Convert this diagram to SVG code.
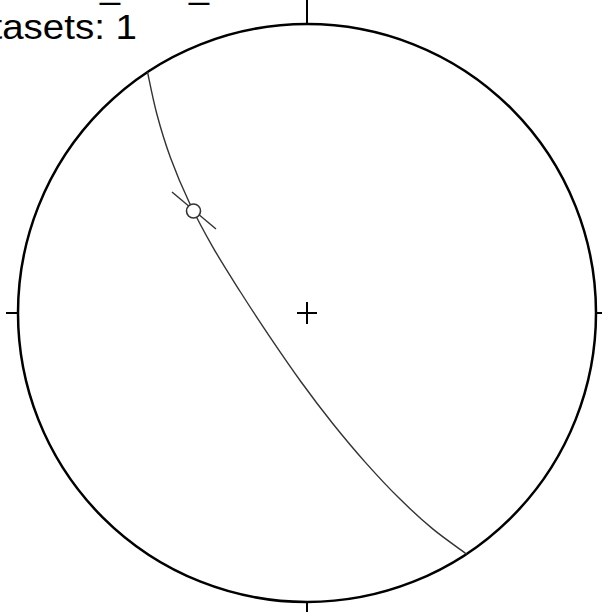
<svg xmlns="http://www.w3.org/2000/svg" width="602" height="612" viewBox="0 0 602 612">
  <style>
    .txt { font-family: "Liberation Sans", Arial, sans-serif; fill: #000; }
    .prim { fill: none; stroke: #000; stroke-width: 2.5; }
    .tick { stroke: #000; stroke-width: 2; }
    .gc { fill: none; stroke: #333; stroke-width: 1.4; }
  </style>
  <rect width="602" height="612" fill="#fff"/>
  <g id="header">
    <text class="txt" x="100" y="-2" font-size="36">_</text>
    <text class="txt" x="189" y="-2" font-size="36">_</text>
    <text class="txt" x="124.5" y="39" font-size="35" text-anchor="end" transform="scale(1.1,1)">Datasets: 1</text>
  </g>
  <g id="net">
    <circle class="prim" cx="307" cy="313" r="289"/>
    <line class="tick" x1="307" y1="0" x2="307" y2="24"/>
    <line class="tick" x1="307" y1="602" x2="307" y2="612"/>
    <line class="tick" x1="6" y1="313" x2="18" y2="313"/>
    <line class="tick" x1="596" y1="313" x2="602" y2="313"/>
    <line class="tick" x1="297" y1="313" x2="317" y2="313"/>
    <line class="tick" x1="307" y1="302" x2="307" y2="324"/>
  </g>
  <g id="connectors">
    <path id="greatcircle" class="gc" d="M466.5,554 C460.9,549.8 443.95,538.2 432.7,528.9 C421.45,519.6 410.2,509.15 399,498.1 C387.8,487.05 376.65,475 365.6,462.6 C354.55,450.2 343.5,437 332.7,423.5 C321.9,410 311.2,395.85 300.8,381.5 C290.4,367.15 280.2,352.2 270.2,337.4 C260.2,322.6 250.3,307.5 240.8,292.5 C231.3,277.5 221.7,262.6 213.1,247.6 C204.5,232.6 196.4,217.5 189.3,202.5 C182.2,187.5 175.8,172.3 170.4,157.5 C165,142.7 160.5,127.75 156.7,113.5 C152.9,99.25 149,78.9 147.5,72"/>
  </g>
  <g id="pole">
    <line x1="172" y1="192" x2="216" y2="229" stroke="#333" stroke-width="1.4"/>
    <circle cx="193.5" cy="211" r="7" fill="#fff" stroke="#333" stroke-width="1.6"/>
  </g>
</svg>
